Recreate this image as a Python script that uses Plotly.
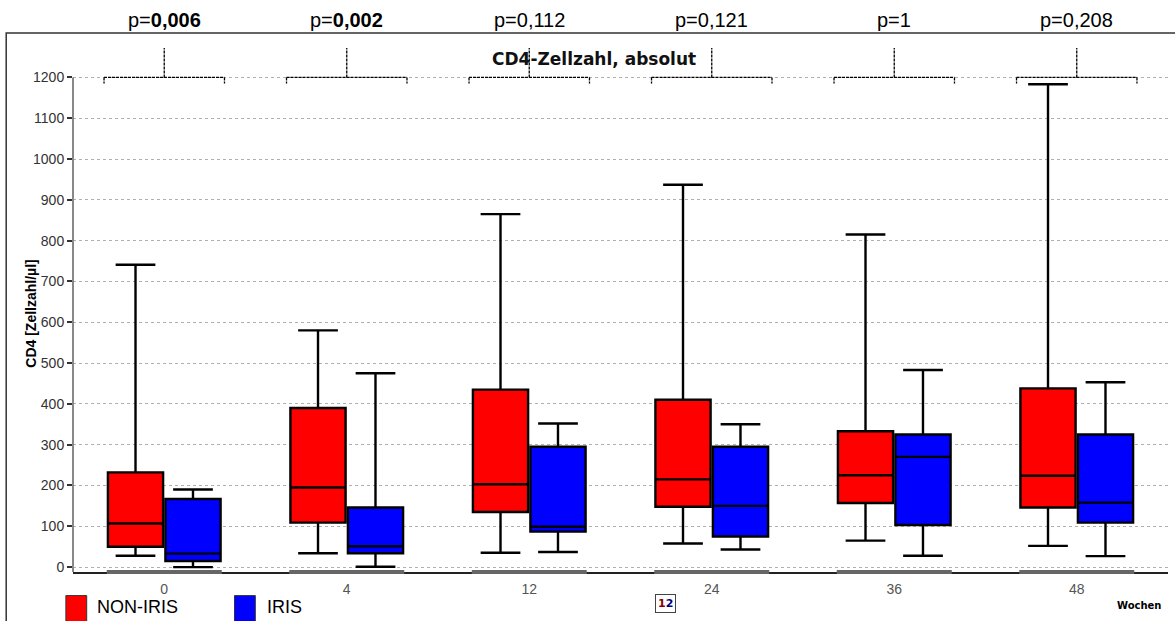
import plotly.graph_objects as go

weeks = ["0", "4", "12", "24", "36", "48"]

non_min = [28, 34, 35, 58, 65, 52]
non_q1 = [50, 109, 135, 148, 157, 146]
non_med = [107, 195, 203, 215, 225, 224]
non_q3 = [232, 390, 435, 410, 333, 438]
non_max = [741, 580, 865, 937, 815, 1183]

iris_min = [0, 1, 37, 43, 28, 27]
iris_q1 = [15, 34, 87, 75, 103, 109]
iris_med = [33, 51, 99, 150, 270, 158]
iris_q3 = [167, 146, 295, 295, 325, 325]
iris_max = [190, 475, 352, 350, 483, 453]

p_values = ["p=<b>0,006</b>", "p=<b>0,002</b>", "p=0,112", "p=0,121", "p=1", "p=0,208"]

fig = go.Figure()
fig.add_trace(go.Box(
    name="NON-IRIS", x=weeks, q1=non_q1, median=non_med, q3=non_q3,
    lowerfence=non_min, upperfence=non_max,
    fillcolor="#ff0000", line=dict(color="black", width=2.4),
    whiskerwidth=0.72, showlegend=False, hoverinfo="skip"))
fig.add_trace(go.Box(
    name="IRIS", x=weeks, q1=iris_q1, median=iris_med, q3=iris_q3,
    lowerfence=iris_min, upperfence=iris_max,
    fillcolor="#0000ff", line=dict(color="black", width=2.4),
    whiskerwidth=0.72, showlegend=False, hoverinfo="skip"))

shapes = []
annotations = []
# y axis line from 0 level to 1200 only
shapes.append(dict(type="line", xref="paper", yref="y", x0=0, x1=0, y0=-12, y1=1200,
                   line=dict(color="#888888", width=2)))
for i, w in enumerate(weeks):
    # grey group segment on x axis
    shapes.append(dict(type="line", xref="x", yref="paper", x0=i - 0.315, x1=i + 0.315,
                       y0=0, y1=0, line=dict(color="#666666", width=4), layer="above"))
    # bracket
    dash = dict(color="black", width=1.3, dash="3px,1px")
    shapes.append(dict(type="line", xref="x", yref="y", x0=i - 0.33, x1=i + 0.33,
                       y0=1200, y1=1200, line=dash))
    shapes.append(dict(type="line", xref="x", yref="y", x0=i - 0.33, x1=i - 0.33,
                       y0=1200, y1=1185, line=dash))
    shapes.append(dict(type="line", xref="x", yref="y", x0=i + 0.33, x1=i + 0.33,
                       y0=1200, y1=1185, line=dash))
    shapes.append(dict(type="line", xref="x", yref="paper", x0=i, x1=i,
                       y0=(1200 + 12) / 1284, y1=1.0, line=dash))
    annotations.append(dict(x=i, xref="x", y=1.053, yref="paper", text=p_values[i],
                            showarrow=False, yanchor="middle",
                            font=dict(family="Liberation Sans, Arial", size=20,
                                      color="black")))

# outer frame
shapes.append(dict(type="rect", xref="paper", yref="paper", x0=-0.061, x1=1.02,
                   y0=-0.2, y1=1.0285, line=dict(color="#333333", width=1.5)))

# custom legend squares
shapes.append(dict(type="rect", xref="paper", yref="paper", x0=-0.0065, x1=0.0125,
                   y0=-0.1, y1=-0.045, fillcolor="#ff0000", line=dict(color="#333", width=1)))
shapes.append(dict(type="rect", xref="paper", yref="paper", x0=0.1475, x1=0.1665,
                   y0=-0.1, y1=-0.045, fillcolor="#0000ff", line=dict(color="#333", width=1)))
annotations += [
    dict(x=0.02, y=-0.067, xref="paper", yref="paper", text="NON-IRIS", showarrow=False,
         xanchor="left", yanchor="middle",
         font=dict(family="Liberation Sans, Arial", size=18, color="black")),
    dict(x=0.175, y=-0.067, xref="paper", yref="paper", text="IRIS", showarrow=False,
         xanchor="left", yanchor="middle",
         font=dict(family="Liberation Sans, Arial", size=18, color="black")),
    dict(x=0.476, y=1.0, xref="paper", yref="paper", text="<b>CD4-Zellzahl, absolut</b>",
         showarrow=False, yanchor="top", yshift=1,
         font=dict(family="DejaVu Sans", size=17, color="#111")),
    dict(x=-0.047, y=0.492, xref="paper", yref="paper", text="<b>CD4 [Zellzahl/µl]</b>",
         showarrow=False, textangle=-90, yanchor="middle",
         font=dict(family="Liberation Sans, Arial", size=14, color="black")),
    dict(x=0.974, y=-0.063, xref="paper", yref="paper", text="<b>Wochen</b>", showarrow=False,
         xanchor="center", yanchor="middle",
         font=dict(family="DejaVu Sans", size=10, color="black")),
    dict(x=0.541, y=-0.06, xref="paper", yref="paper",
         text="<b><span style='color:#8b0000'>1</span><span style='color:#000080'>2</span></b>",
         showarrow=False, bordercolor="#444", borderwidth=1, borderpad=2, yanchor="middle",
         font=dict(family="DejaVu Sans", size=11)),
]

fig.update_layout(
    width=1175, height=621,
    margin=dict(l=73, r=7, t=48, b=49),
    paper_bgcolor="white", plot_bgcolor="white",
    boxmode="group", boxgap=0.37, boxgroupgap=0.04,
    shapes=shapes, annotations=annotations,
    xaxis=dict(type="category", range=[-0.5, 5.5], showline=True, linecolor="#222",
               linewidth=1.5, showgrid=False, ticks="outside", ticklen=3,
               tickcolor="rgba(0,0,0,0)", tickfont=dict(
                   family="Liberation Sans, Arial", size=14, color="#555")),
    yaxis=dict(range=[-12, 1272], tickvals=list(range(0, 1300, 100)), showline=False,
               ticks="outside", ticklen=5, tickcolor="#333",
               tickwidth=2, showgrid=True, gridcolor="#b0b0b0", griddash="3px,3px",
               zeroline=False, tickfont=dict(family="Liberation Sans, Arial", size=14,
                                             color="#333")),
    font=dict(family="Liberation Sans, Arial"),
)

fig.write_html("out.html")
